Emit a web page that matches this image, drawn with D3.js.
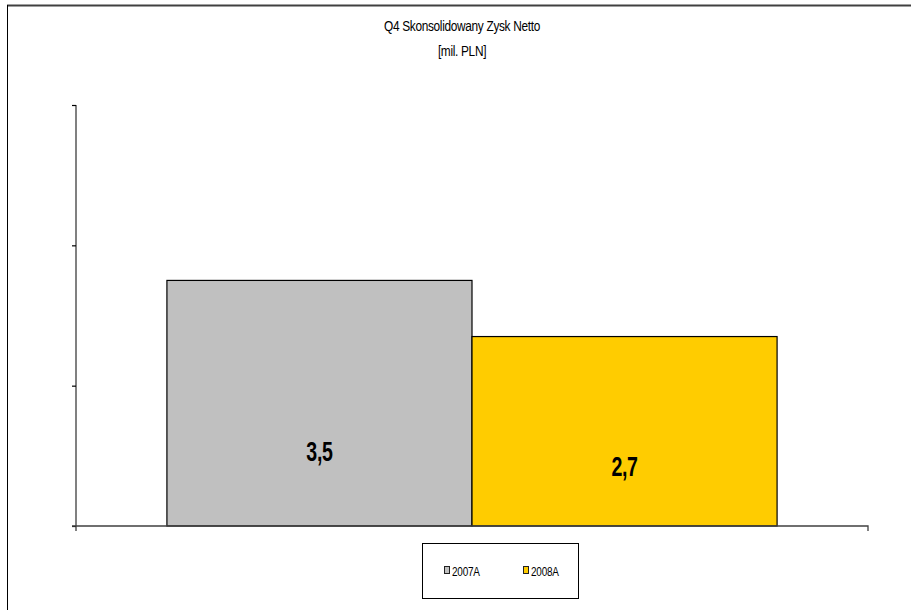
<!DOCTYPE html>
<html>
<head>
<meta charset="utf-8">
<script src="https://cdn.jsdelivr.net/npm/d3@7"></script>
<style>
  html, body { margin: 0; padding: 0; background: #fff; }
  svg { display: block; }
  text { font-family: "Liberation Sans", Arial, sans-serif; }
</style>
</head>
<body>
<svg id="chart" width="911" height="610"></svg>
<script>
// Q4 consolidated net profit, million PLN
const titleLines = ["Q4 Skonsolidowany Zysk Netto", "[mil. PLN]"];
const series = ["2007A", "2008A"];
const values = [3.5, 2.7];
const valueLabels = ["3,5", "2,7"];
const colors = ["#c0c0c0", "#ffcc00"];
const yTicks = [0, 2, 4, 6];

const svg = d3.select("#chart");
const W = 911, H = 610;
const plot = { left: 76, right: 868, top: 105, bottom: 526 };

// narrow type: horizontally condensed text placed at (x, y)
const narrow = (sel, sx) => sel
  .attr("transform", function () {
    const x = +this.dataset.x, y = +this.dataset.y;
    return `translate(${x},${y}) scale(${sx},1)`;
  });

// outer frame (top and left edges visible)
svg.append("line").attr("x1", 7).attr("x2", W).attr("y1", 5.5).attr("y2", 5.5)
  .attr("stroke", "#404040").attr("stroke-width", 2);
svg.append("line").attr("x1", 7.5).attr("x2", 7.5).attr("y1", 5).attr("y2", H)
  .attr("stroke", "#000").attr("stroke-width", 1);

// title
svg.append("g").selectAll("text").data(titleLines).join("text")
  .attr("data-x", 462).attr("data-y", (d, i) => 31 + i * 25)
  .attr("text-anchor", "middle").attr("font-size", 14.5).attr("fill", "#000")
  .attr("letter-spacing", -0.4)
  .text(d => d)
  .call(narrow, 0.82);

const y = d3.scaleLinear().domain([0, 6]).range([plot.bottom, plot.top]);
const x = d3.scaleBand().domain(series).range([plot.left, plot.right])
  .paddingInner(0).paddingOuter(0.298);

// bars
svg.append("g").selectAll("rect").data(series).join("rect")
  .attr("x", d => x(d))
  .attr("y", (d, i) => y(values[i]))
  .attr("width", x.bandwidth())
  .attr("height", (d, i) => y(0) - y(values[i]))
  .attr("fill", (d, i) => colors[i])
  .attr("stroke", "#000").attr("stroke-width", 1.2);

// y axis: ticks only, no labels
const yAxis = svg.append("g").attr("transform", `translate(${plot.left},0)`)
  .call(d3.axisLeft(y).tickValues(yTicks).tickSize(4).tickFormat(""));
yAxis.select(".domain").attr("stroke", "#808080").attr("stroke-width", 2)
  .attr("d", `M0,${plot.top}V${plot.bottom + 5}`);
yAxis.selectAll(".tick line").attr("stroke", "#000").attr("stroke-width", 1.2);

// x axis baseline with end tick
const xAxis = svg.append("g").attr("transform", `translate(0,${plot.bottom})`);
xAxis.append("path")
  .attr("d", `M${plot.left - 4},0H${plot.right}V5`)
  .attr("fill", "none").attr("stroke", "#404040").attr("stroke-width", 1.3);

// value labels
svg.append("g").selectAll("text").data(series).join("text")
  .attr("data-x", d => x(d) + x.bandwidth() / 2)
  .attr("data-y", (d, i) => y(values[i] * 0.265))
  .attr("text-anchor", "middle")
  .attr("font-size", 28).attr("font-weight", "bold").attr("fill", "#000")
  .attr("letter-spacing", -0.5)
  .text((d, i) => valueLabels[i])
  .call(narrow, 0.7);

// legend
const legend = svg.append("g");
legend.append("rect").attr("x", 422.5).attr("y", 543.5).attr("width", 156).attr("height", 55)
  .attr("fill", "#fff").attr("stroke", "#000").attr("stroke-width", 1);
const items = legend.selectAll("g.item").data(series).join("g")
  .attr("class", "item")
  .attr("transform", (d, i) => `translate(${444 + i * 79},0)`);
items.append("rect").attr("x", 0.5).attr("y", 566.5).attr("width", 5).attr("height", 7)
  .attr("fill", (d, i) => colors[i]).attr("stroke", "#222").attr("stroke-width", 1);
items.append("text").attr("data-x", 8).attr("data-y", 575.5)
  .attr("font-size", 13.5).attr("fill", "#000").attr("letter-spacing", -0.3)
  .text(d => d)
  .call(narrow, 0.74);
</script>
</body>
</html>
